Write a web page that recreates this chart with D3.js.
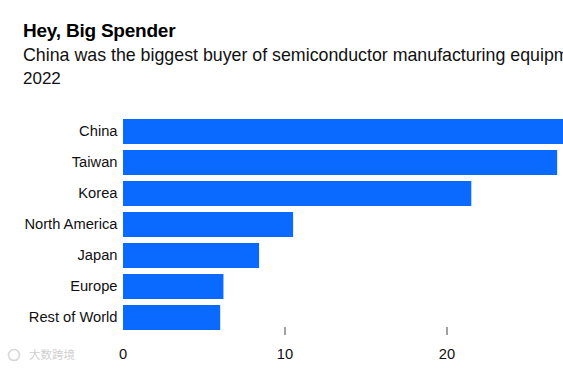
<!DOCTYPE html>
<html><head><meta charset="utf-8">
<script src="https://cdn.jsdelivr.net/npm/d3@7/dist/d3.min.js"></script>
<style>html,body{margin:0;padding:0;background:#fff;overflow:hidden}svg{display:block}</style>
</head><body><svg id="c" width="563" height="368"></svg>
<script>
const categories=["China","Taiwan","Korea","North America","Japan","Europe","Rest of World"];
const values=[28.3,26.8,21.5,10.5,8.4,6.2,6.0];
const tickValues=[0,10,20];
const title="Hey, Big Spender";
const subtitleLines=["China was the biggest buyer of semiconductor manufacturing equipment in","2022"];
const watermark="大数跨境";
const font="'Liberation Sans',Arial,sans-serif";
const svg=d3.select("#c");
const x=d3.scaleLinear().domain([0,20]).range([123,447]);
const y=d3.scaleBand().domain(categories).range([116,333]).paddingInner(6/31).paddingOuter(3/31);
svg.append("text").attr("x",23).attr("y",37).attr("font-family",font).attr("font-weight",700).attr("font-size",19).attr("letter-spacing",-0.22).attr("fill","#000").text(title);
svg.selectAll(".sub").data(subtitleLines).join("text").attr("class","sub").attr("x",23).attr("y",(d,i)=>61+i*22.5)
 .attr("font-family",font).attr("font-size",(d,i)=>i?17:17.8).attr("fill","#111").text(d=>d);
svg.selectAll(".bar").data(values).join("rect").attr("class","bar").attr("x",x(0)).attr("y",(d,i)=>y(categories[i]))
 .attr("width",d=>x(d)-x(0)).attr("height",y.bandwidth()).attr("fill","#0a6aff");
svg.selectAll(".cat").data(categories).join("text").attr("class","cat").attr("x",117.5).attr("y",d=>y(d)+y.bandwidth()/2+4.3)
 .attr("text-anchor","end").attr("font-family",font).attr("font-size",14.7).attr("fill","#111").text(d=>d);
svg.selectAll(".tick").data(tickValues.slice(1)).join("line").attr("class","tick").attr("x1",d=>x(d)).attr("x2",d=>x(d)).attr("y1",327).attr("y2",335)
 .attr("stroke","#444").attr("stroke-width",1);
svg.selectAll(".tl").data(tickValues).join("text").attr("class","tl").attr("x",d=>x(d)).attr("y",359)
 .attr("text-anchor","middle").attr("font-family",font).attr("font-size",14.7).attr("fill","#111").text(d=>d);
svg.append("circle").attr("cx",14).attr("cy",355).attr("r",5.5).attr("fill","none").attr("stroke","#d8d8d8").attr("stroke-width",1.6);
svg.append("text").attr("x",29).attr("y",359).attr("font-family","'Noto Sans CJK SC'").attr("font-size",11.5).attr("fill","#cfcfcf").text(watermark);
</script></body></html>
